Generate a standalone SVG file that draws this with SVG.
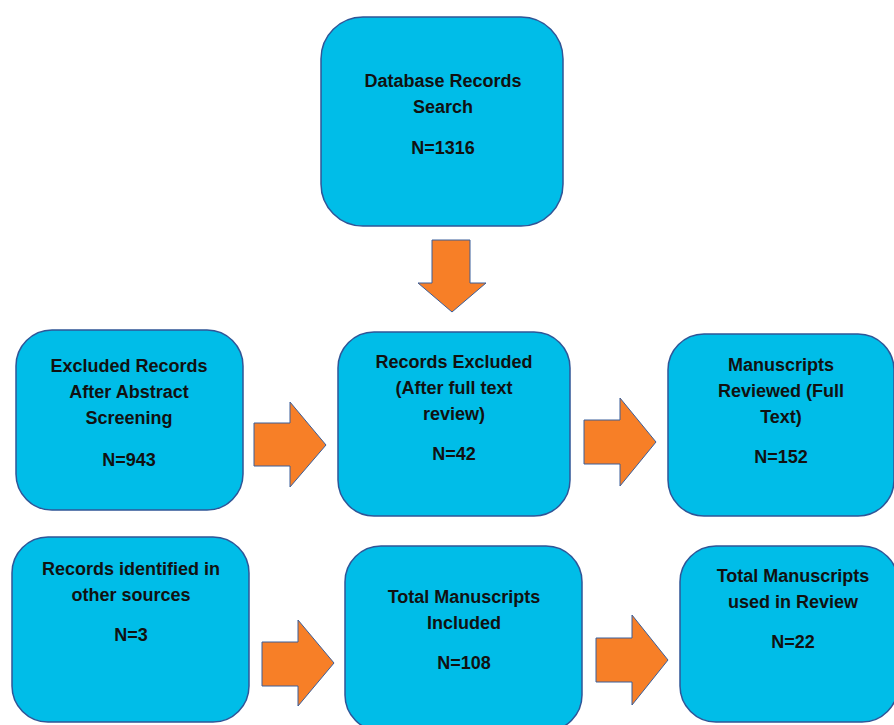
<svg xmlns="http://www.w3.org/2000/svg" width="894" height="725" viewBox="0 0 894 725">
<style>
.box{fill:#00BDE8;stroke:#2F5597;stroke-width:1.5}
.arr{fill:#F77F27;stroke:#3B5E9A;stroke-width:1}
text{font-family:"Liberation Sans",Arial,sans-serif;font-weight:bold;font-size:18px;fill:#111;text-anchor:middle}
</style>
<rect width="894" height="725" fill="#fff"/>
<g id="n1"><rect class="box" x="321" y="17" width="242" height="209" rx="42"/>
<text x="443" y="87">Database Records</text><text x="443" y="113">Search</text><text x="443" y="154">N=1316</text></g>
<g id="n2"><rect class="box" x="16" y="330" width="227" height="180" rx="36"/>
<text x="129" y="372">Excluded Records</text><text x="129" y="398">After Abstract</text><text x="129" y="424">Screening</text><text x="129" y="466">N=943</text></g>
<g id="n3"><rect class="box" x="338" y="332" width="232" height="184" rx="36"/>
<text x="454" y="368">Records Excluded</text><text x="454" y="394">(After full text</text><text x="454" y="420">review)</text><text x="454" y="460">N=42</text></g>
<g id="n4"><rect class="box" x="668" y="334" width="226" height="182" rx="36"/>
<text x="781" y="371">Manuscripts</text><text x="781" y="397">Reviewed (Full</text><text x="781" y="423">Text)</text><text x="781" y="463">N=152</text></g>
<g id="n5"><rect class="box" x="12" y="537" width="237" height="185" rx="36"/>
<text x="131" y="575">Records identified in</text><text x="131" y="601">other sources</text><text x="131" y="641">N=3</text></g>
<g id="n6"><rect class="box" x="345" y="546" width="237" height="185" rx="36"/>
<text x="464" y="603">Total Manuscripts</text><text x="464" y="629">Included</text><text x="464" y="669">N=108</text></g>
<g id="n7"><rect class="box" x="680" y="546" width="218" height="176" rx="36"/>
<text x="793" y="582">Total Manuscripts</text><text x="793" y="608">used in Review</text><text x="793" y="648">N=22</text></g>
<g id="connectors">
<polygon class="arr" points="432,240 470,240 470,283 486,283 452,312 418,283 432,283"/>
<polygon class="arr" points="254,423 290,423 290,402 326,445 290,487 290,466 254,466"/>
<polygon class="arr" points="584,420 620,420 620,398 656,442 620,486 620,464 584,464"/>
<polygon class="arr" points="262,642 298,642 298,620 334,663 298,706 298,686 262,686"/>
<polygon class="arr" points="596,638 632,638 632,615 668,660 632,705 632,682 596,682"/>
</g>
</svg>
